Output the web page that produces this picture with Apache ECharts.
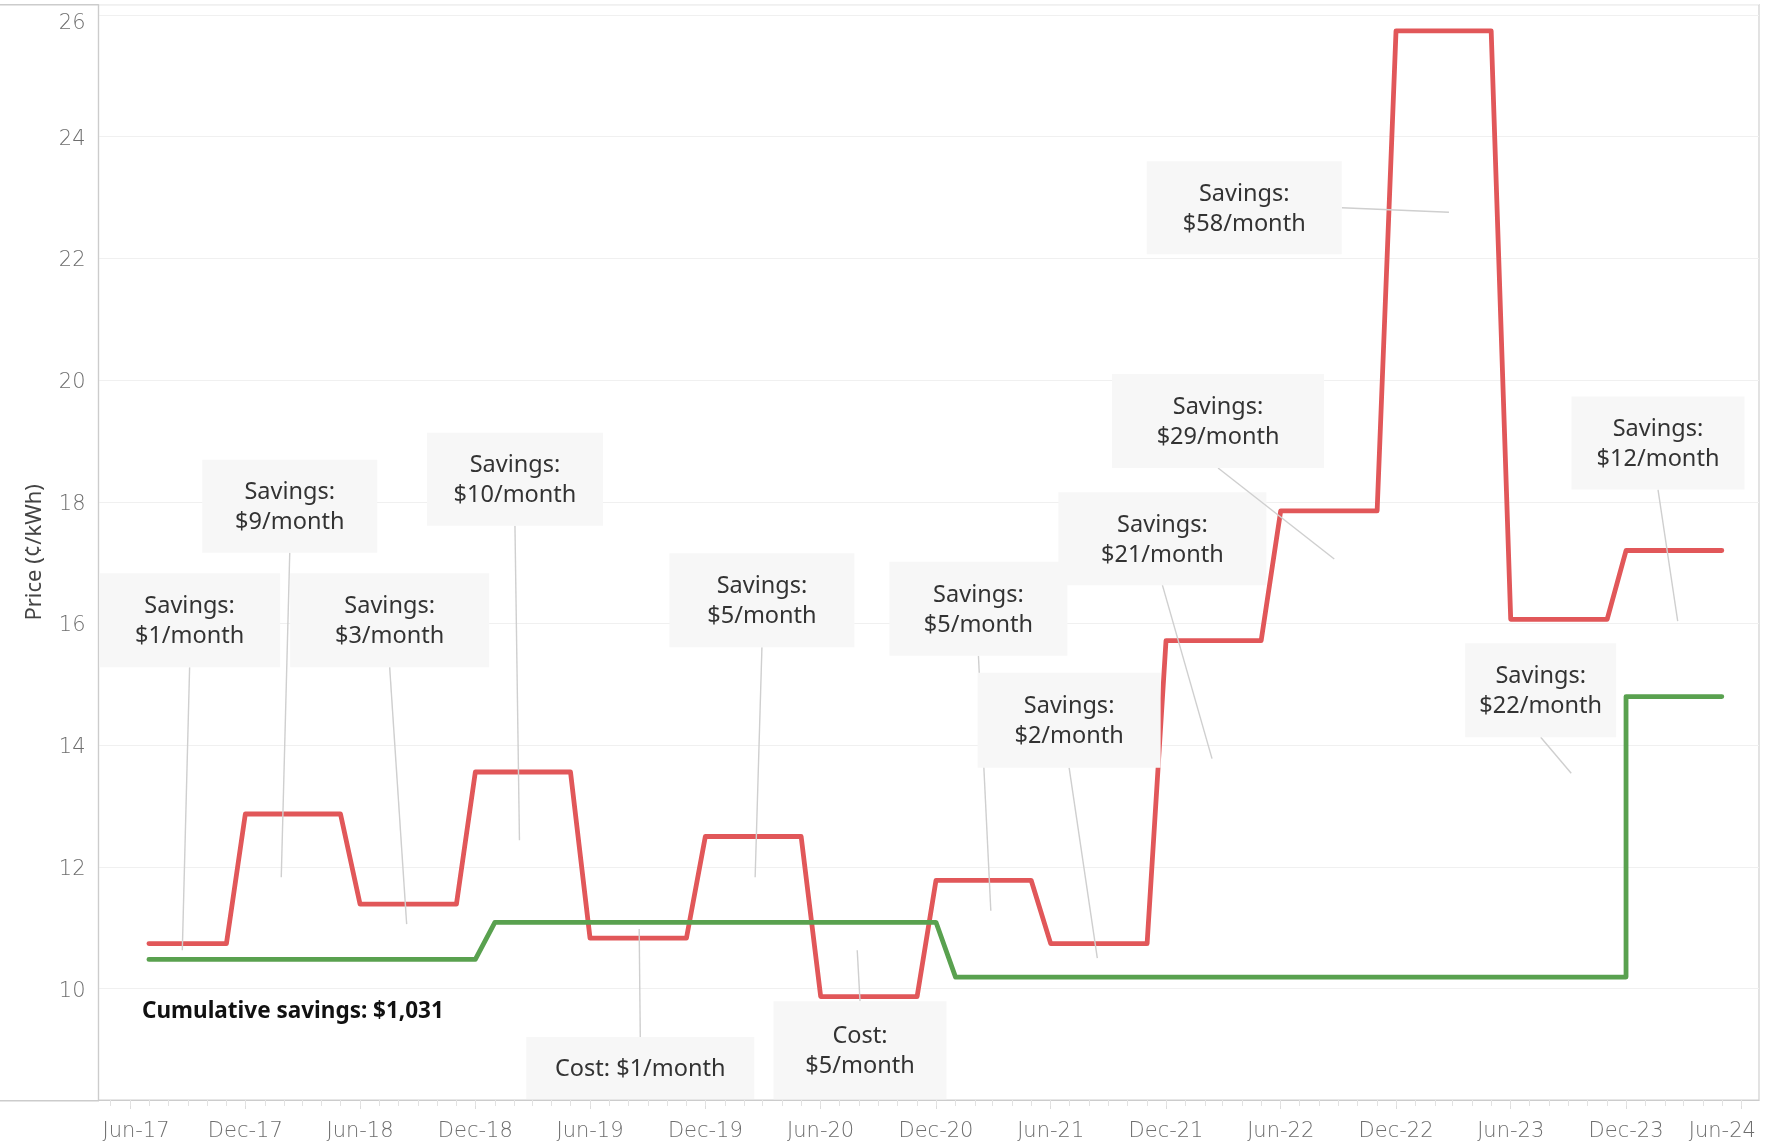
<!DOCTYPE html>
<html>
<head>
<meta charset="utf-8">
<script src="https://cdn.jsdelivr.net/npm/echarts@6/dist/echarts.min.js"></script>
<style>
html,body{margin:0;padding:0;background:#ffffff;}
#chart{width:1769px;height:1142px;}
</style>
</head>
<body>
<div id="chart"></div>
<script>
// ---------------- DATA ----------------
// Standard (red) rate, cents per kWh: monthly points, flat within each 6-month period
const redDates = ['2017-07-01','2017-11-01','2017-12-01','2018-05-01','2018-06-01','2018-11-01',
  '2018-12-01','2019-05-01','2019-06-01','2019-11-01','2019-12-01','2020-05-01','2020-06-01','2020-11-01',
  '2020-12-01','2021-05-01','2021-06-01','2021-11-01','2021-12-01','2022-05-01','2022-06-01','2022-11-01',
  '2022-12-01','2023-05-01','2023-06-01','2023-11-01','2023-12-01','2024-05-01'];
const redValues = [10.74,10.74,12.87,12.87,11.39,11.39,
  13.56,13.56,10.83,10.83,12.50,12.50,9.87,9.87,
  11.78,11.78,10.74,10.74,15.72,15.72,17.85,17.85,
  25.74,25.74,16.07,16.07,17.20,17.20];

// Fixed (green) rate
const greenDates = ['2017-07-01','2018-12-01','2019-01-01','2020-12-01','2021-01-01','2023-12-01','2023-12-01','2024-05-01'];
const greenValues = [10.48,10.48,11.09,11.09,10.19,10.19,14.80,14.80];

// Axis ticks
const yTickValues = [10,12,14,16,18,20,22,24,26];
const xTickDates = ['2017-06-01','2017-12-01','2018-06-01','2018-12-01','2019-06-01','2019-12-01','2020-06-01',
  '2020-12-01','2021-06-01','2021-12-01','2022-06-01','2022-12-01','2023-06-01','2023-12-01','2024-06-01'];
const xTickLabels = ['Jun-17','Dec-17','Jun-18','Dec-18','Jun-19','Dec-19','Jun-20',
  'Dec-20','Jun-21','Dec-21','Jun-22','Dec-22','Jun-23','Dec-23','Jun-24'];

// Annotations: anchor date, anchor value, text
const noteDates = ['2017-08-23','2018-01-27','2018-08-14','2019-02-09','2019-08-18','2020-02-18','2020-07-29',
  '2021-02-26','2021-08-14','2022-02-12','2022-08-25','2023-02-23','2023-09-05','2024-02-21'];
const noteValues = [10.63,11.83,11.06,12.44,10.98,11.83,10.63,11.28,10.50,13.78,17.06,22.76,13.54,16.04];
const noteTexts = ['Savings:\n$1/month','Savings:\n$9/month','Savings:\n$3/month','Savings:\n$10/month',
  'Cost: $1/month','Savings:\n$5/month','Cost:\n$5/month','Savings:\n$5/month','Savings:\n$2/month',
  'Savings:\n$21/month','Savings:\n$29/month','Savings:\n$58/month','Savings:\n$22/month','Savings:\n$12/month'];
const cumulativeText = 'Cumulative savings: $1,031';
const yAxisTitle = 'Price (\u00a2/kWh)';

// ---------------- LAYOUT (callout boxes, pixel offsets from anchor) ----------------
const noteLayout = [
  {dx:7.3,  dy:-330, w:181, h:94, side:'bottom'},
  {dx:8.5,  dy:-371, w:175, h:93, side:'bottom'},
  {dx:-17,  dy:-304, w:199, h:94, side:'bottom'},
  {dx:-4.5, dy:-361, w:176, h:93, side:'bottom'},
  {dx:1.1,  dy:139,  w:228, h:62, side:'top'},
  {dx:6.8,  dy:-277, w:185, h:94, side:'bottom'},
  {dx:2.8,  dy:100,  w:173, h:98, side:'top'},
  {dx:-12.4,dy:-302, w:178, h:94, side:'bottom'},
  {dx:-28.2,dy:-238, w:183, h:95, side:'bottom'},
  {dx:-49.6,dy:-220, w:208, h:93, side:'bottom'},
  {dx:-116.2,dy:-138,w:212, h:94, side:'bottom'},
  {dx:-204.7,dy:-4.5,w:195, h:93, side:'right'},
  {dx:-30.5,dy:-83,  w:151, h:94, side:'bottom'},
  {dx:-19.7,dy:-178, w:173, h:93, side:'bottom'}
];

function ts(s) {
  const p = s.split('T')[0].split('-').map(Number);
  let h = 0;
  if (s.indexOf('T') >= 0) h = Number(s.split('T')[1].split(':')[0]);
  return new Date(p[0], p[1] - 1, p[2], h).getTime();
}
const xMin = ts('2017-04-12T00:00');
const xMax = ts('2024-06-29');
const monthTicks = [];
for (let y = 2017; y <= 2024; y++) {
  for (let m = 0; m < 12; m++) {
    const t = new Date(y, m, 1).getTime();
    if (t > xMin && t < xMax) monthTicks.push(t);
  }
}
const xTickTs = xTickDates.map(ts);

const axisFont = 'DejaVu Sans';
const axisColor = '#6e6e6e';

const chart = echarts.init(document.getElementById('chart'), null, {renderer: 'canvas'});

const option = {
  animation: false,
  backgroundColor: '#ffffff',
  grid: {left: 98.5, right: 10, top: 4.7, bottom: 41.3, show: true, borderColor: '#d0d0d0', borderWidth: 1.2, containLabel: false},
  xAxis: [
    {
      type: 'value', min: xMin, max: xMax, scale: true,
      axisLine: {show: true, lineStyle: {color: '#cccccc', width: 1.2}},
      axisTick: {show: true, customValues: xTickTs, length: 9, lineStyle: {color: '#dcdcdc', width: 1}},
      splitLine: {show: false},
      axisLabel: {
        show: true, customValues: xTickTs, margin: 21,
        color: axisColor, fontFamily: axisFont, fontSize: 21, fontWeight: 200,
        formatter: function (v) {
          let i = -1;
          for (let k = 0; k < xTickTs.length; k++) { if (Math.abs(xTickTs[k] - v) < 1000) i = k; }
          const lab = i >= 0 ? xTickLabels[i] : '';
          if (i === 0) return '{first|' + lab + '}';
          if (i === xTickTs.length - 1) return '{last|' + lab + '}';
          return lab;
        },
        rich: {
          first: {color: axisColor, fontFamily: axisFont, fontSize: 21, fontWeight: 200, padding: [0, 0, 0, 12]},
          last: {color: axisColor, fontFamily: axisFont, fontSize: 21, fontWeight: 200, padding: [0, 38, 0, 0]}
        }
      }
    },
    {
      type: 'value', min: xMin, max: xMax, scale: true, gridIndex: 0, position: 'bottom',
      axisLine: {show: false},
      axisLabel: {show: false},
      splitLine: {show: false},
      axisTick: {show: true, customValues: monthTicks, length: 6, lineStyle: {color: '#e2e2e2', width: 1}}
    }
  ],
  yAxis: {
    type: 'value', min: 8.17, max: 26.17, splitNumber: 9,
    name: yAxisTitle, nameLocation: 'middle', nameRotate: 90, nameGap: 53,
    nameTextStyle: {color: '#444444', fontFamily: 'Noto Sans', fontSize: 22},
    axisLine: {show: true, lineStyle: {color: '#cccccc', width: 1.2}},
    axisTick: {show: false},
    splitLine: {show: true, lineStyle: {color: '#f0f0f0', width: 1.2}},
    axisLabel: {
      customValues: yTickValues, color: axisColor, fontFamily: axisFont, fontSize: 21, fontWeight: 200, margin: 13,
      formatter: function (v) { return v === 26 ? '{top|26}' : '{n|' + v + '}'; },
      rich: {
        top: {color: axisColor, fontFamily: axisFont, fontSize: 21, fontWeight: 200, padding: [17, 0, 0, 0]},
        n: {color: axisColor, fontFamily: axisFont, fontSize: 21, fontWeight: 200, padding: [5, 0, 0, 0]}
      }
    }
  },
  graphic: [
    {type: 'line', shape: {x1: 0, y1: 4.7, x2: 99, y2: 4.7}, style: {stroke: '#cccccc', lineWidth: 1.6}, silent: true},
    {type: 'line', shape: {x1: 0, y1: 1100.7, x2: 99, y2: 1100.7}, style: {stroke: '#cccccc', lineWidth: 1.6}, silent: true},
    {type: 'text', left: 142, top: 1000, style: {text: cumulativeText, fill: '#111111', font: 'bold 22.5px "Noto Sans"'}, silent: true}
  ],
  series: [
    {
      name: 'Standard', type: 'line', xAxisIndex: 0,
      data: redDates.map((d, i) => [ts(d), redValues[i]]),
      symbol: 'none', z: 3,
      lineStyle: {color: '#e15759', width: 4.8, cap: 'round', join: 'round'}
    },
    {
      name: 'Fixed', type: 'line', xAxisIndex: 0,
      data: greenDates.map((d, i) => [ts(d), greenValues[i]]),
      symbol: 'none', z: 3,
      lineStyle: {color: '#59a14f', width: 4.8, cap: 'round', join: 'round'}
    },
    {
      name: 'Notes', type: 'custom', xAxisIndex: 0, z: 5,
      data: noteDates.map((d, i) => [ts(d), noteValues[i], i]),
      renderItem: function (params, api) {
        const i = api.value(2);
        const p = api.coord([api.value(0), api.value(1)]);
        const L = noteLayout[i];
        const cx = p[0] + L.dx, cy = p[1] + L.dy;
        const x0 = cx - L.w / 2, y0 = cy - L.h / 2;
        let sx = cx, sy = y0 + L.h;
        if (L.side === 'top') { sy = y0; }
        if (L.side === 'right') { sx = x0 + L.w; sy = cy; }
        return {
          type: 'group',
          children: [
            {type: 'line', shape: {x1: sx, y1: sy, x2: p[0], y2: p[1]}, style: {stroke: '#cfcfcf', lineWidth: 1.4}},
            {type: 'rect', shape: {x: x0, y: y0, width: L.w, height: L.h}, style: {fill: '#f7f7f7'}},
            {type: 'text', x: cx, y: cy + 1.5, style: {text: noteTexts[i], align: 'center', verticalAlign: 'middle',
              fontFamily: 'Noto Sans', fontSize: 23.5, lineHeight: 30, fill: '#333333'}}
          ]
        };
      }
    }
  ]
};
chart.setOption(option);
</script>
</body>
</html>
